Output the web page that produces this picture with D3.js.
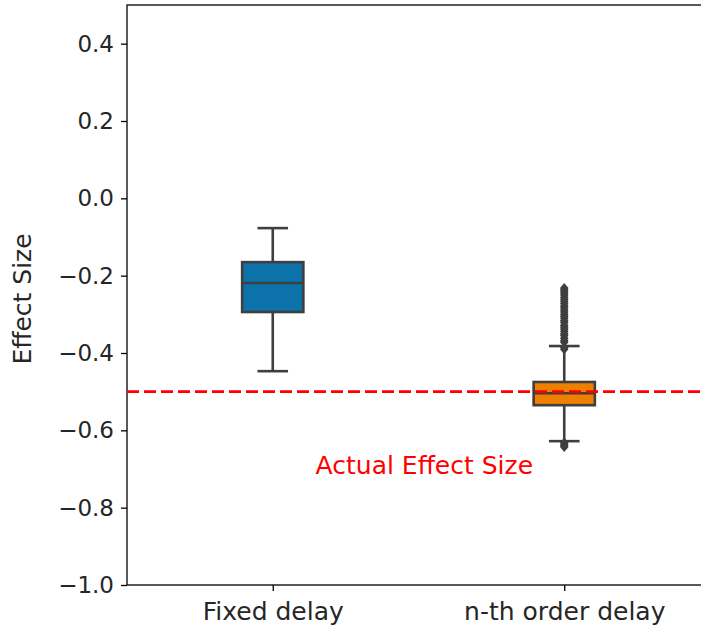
<!DOCTYPE html>
<html>
<head>
<meta charset="utf-8">
<script src="https://cdn.jsdelivr.net/npm/d3@7"></script>
<style>
  body { margin: 0; background: #fff; }
  svg { display: block; font-family: "DejaVu Sans", sans-serif; }
</style>
</head>
<body>
<svg></svg>
<script>
// categories and box stats
const categories = ["Fixed delay", "n-th order delay"];
const boxColors = ["#0b72aa", "#ef7f00"];
const whiskerLow = [-0.447, -0.628];
const q1 = [-0.294, -0.535];
const median = [-0.219, -0.504];
const q3 = [-0.165, -0.475];
const whiskerHigh = [-0.077, -0.382];
// outliers of the n-th order delay group (fixed delay has none)
const outliersHigh = [-0.386, -0.390, -0.372, -0.368, -0.362, -0.355, -0.350, -0.344, -0.338, -0.333,
  -0.328, -0.321, -0.316, -0.310, -0.305, -0.300, -0.294, -0.289, -0.283, -0.278,
  -0.272, -0.266, -0.261, -0.256, -0.250, -0.245, -0.240, -0.236, -0.232];
const outliersLow = [-0.632, -0.636, -0.640, -0.643];
const yTicks = [-1.0, -0.8, -0.6, -0.4, -0.2, 0.0, 0.2, 0.4];
const actualEffect = -0.5;

const WIDTH = 701, HEIGHT = 630;
const LEFT = 127, TOP = 5, BOTTOM = 585, RIGHT = 710;
const FONT = '"DejaVu Sans", sans-serif';

let svg = d3.select('svg').attr('width', WIDTH).attr('height', HEIGHT);

let x = d3.scaleLinear().domain([-0.5, categories.length - 0.5]).range([LEFT, RIGHT]);
let y = d3.scaleLinear().domain([-1.0, 0.5]).range([BOTTOM, TOP]);

const fmt = v => d3.format(".1f")(v).replace("-", "\u2212");

// axes
let yAxis = svg.append('g').attr('transform', `translate(${LEFT},0)`)
  .call(d3.axisLeft(y).tickValues(yTicks).tickFormat(fmt).tickSize(6).tickPadding(7));
let xAxis = svg.append('g').attr('transform', `translate(0,${BOTTOM})`)
  .call(d3.axisBottom(x).tickValues(d3.range(categories.length)).tickFormat(i => categories[i]).tickSize(6).tickPadding(11));
[yAxis, xAxis].forEach(a => {
  a.attr('font-family', FONT);
  a.select('.domain').remove();
  a.selectAll('line').attr('stroke', '#000').attr('stroke-width', 1.3);
  a.selectAll('text').attr('fill', '#262626');
});
yAxis.selectAll('text').style('font-size', '23px');
xAxis.selectAll('text').style('font-size', '25px');

// spines
svg.append('rect').attr('x', LEFT).attr('y', TOP).attr('width', RIGHT - LEFT).attr('height', BOTTOM - TOP)
  .attr('fill', 'none').attr('stroke', '#000').attr('stroke-width', 1.3);

svg.append('text')
  .attr('transform', `translate(24,${(TOP + BOTTOM) / 2 + 4}) rotate(-90)`)
  .attr('text-anchor', 'middle').attr('dominant-baseline', 'middle')
  .style('font-size', '25px').attr('fill', '#262626').text('Effect Size');

// boxes
const boxW = 0.21 * (x(1) - x(0));
const edge = '#3f3f3f', lw = 2.6;
categories.forEach((c, i) => {
  let cx = x(i);
  let g = svg.append('g');
  g.append('line').attr('x1', cx).attr('x2', cx).attr('y1', y(q3[i])).attr('y2', y(whiskerHigh[i]))
    .attr('stroke', edge).attr('stroke-width', lw);
  g.append('line').attr('x1', cx).attr('x2', cx).attr('y1', y(q1[i])).attr('y2', y(whiskerLow[i]))
    .attr('stroke', edge).attr('stroke-width', lw);
  [whiskerHigh[i], whiskerLow[i]].forEach(v => {
    g.append('line').attr('x1', cx - boxW / 4).attr('x2', cx + boxW / 4).attr('y1', y(v)).attr('y2', y(v))
      .attr('stroke', edge).attr('stroke-width', lw);
  });
  g.append('rect').attr('x', cx - boxW / 2).attr('width', boxW)
    .attr('y', y(q3[i])).attr('height', y(q1[i]) - y(q3[i]))
    .attr('fill', boxColors[i]).attr('stroke', edge).attr('stroke-width', lw);
  g.append('line').attr('x1', cx - boxW / 2).attr('x2', cx + boxW / 2).attr('y1', y(median[i])).attr('y2', y(median[i]))
    .attr('stroke', edge).attr('stroke-width', lw);
});

// outlier diamonds
const diamond = d3.symbol().type(d3.symbolDiamond).size(48);
svg.append('g').selectAll('path').data(outliersHigh.concat(outliersLow)).join('path')
  .attr('d', diamond)
  .attr('transform', d => `translate(${x(1)},${y(d)}) scale(1.15,0.8)`)
  .attr('fill', edge);

// reference line + label
svg.append('line').attr('x1', LEFT).attr('x2', RIGHT).attr('y1', y(actualEffect)).attr('y2', y(actualEffect))
  .attr('stroke', 'red').attr('stroke-width', 2.6).attr('stroke-dasharray', '12,5');
svg.append('text').attr('x', x(0.52)).attr('y', y(-0.695))
  .attr('text-anchor', 'middle').attr('dominant-baseline', 'middle')
  .style('font-size', '25px').attr('fill', 'red').text('Actual Effect Size');
</script>
</body>
</html>
